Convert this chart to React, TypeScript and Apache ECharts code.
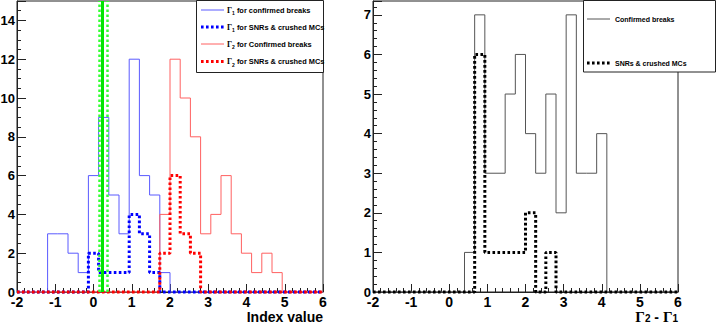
import React, { useEffect, useRef } from "react";
import * as echarts from "echarts";

// Histogram binning: 30 bins from -2 to 6
const X_MIN = -2;
const X_MAX = 6;
const BIN_COUNT = 30;

// Left panel: index values (counts per bin)
const gamma1Confirmed = [0, 0, 0, 3, 3, 2, 1, 6, 9, 5, 3, 12, 6, 5, 1, 0, 0, 0, 0, 0, 0, 0, 0, 0, 0, 0, 0, 0, 0, 0];
const gamma1SNR = [0, 0, 0, 0, 0, 0, 0, 2, 1, 1, 1, 4, 3, 1, 0, 0, 0, 0, 0, 0, 0, 0, 0, 0, 0, 0, 0, 0, 0, 0];
const gamma2Confirmed = [0, 0, 0, 0, 0, 0, 0, 0, 0, 0, 0, 0, 0, 0, 4, 12, 10, 8, 3, 4, 6, 3, 2, 1, 2, 1, 0, 0, 0, 0];
const gamma2SNR = [0, 0, 0, 0, 0, 0, 0, 0, 0, 0, 0, 0, 0, 0, 2, 6, 3, 2, 0, 0, 0, 0, 0, 0, 0, 0, 0, 0, 0, 0];

// Right panel: Γ2 - Γ1
const diffConfirmed = [0, 0, 0, 0, 0, 0, 0, 0, 0, 1, 7, 3, 3, 5, 6, 4, 3, 5, 2, 7, 3, 3, 4, 0, 0, 0, 0, 0, 0, 0];
const diffSNR = [0, 0, 0, 0, 0, 0, 0, 0, 0, 0, 6, 1, 1, 1, 1, 2, 0, 1, 0, 0, 0, 0, 0, 0, 0, 0, 0, 0, 0, 0];

// Green reference lines (mean and band)
const gammaMean = 0.24;
const gammaLow = 0.15;
const gammaHigh = 0.35;

// Axis ranges
const leftYMax = 15;
const rightYMax = 7.35;

const leftLegend = [
  { sub: "1", text: " for confirmed breaks" },
  { sub: "1", text: " for SNRs & crushed MCs" },
  { sub: "2", text: " for Confirmed breaks" },
  { sub: "2", text: " for SNRs & crushed MCs" },
];
const rightLegend = ["Confirmed breaks", "SNRs & crushed MCs"];

function steps(values: number[]) {
  const w = (X_MAX - X_MIN) / BIN_COUNT;
  const pts: number[][] = [];
  values.forEach((v, k) => {
    pts.push([X_MIN + k * w, v]);
    pts.push([X_MIN + (k + 1) * w, v]);
  });
  return pts;
}

const SANS = "'Liberation Sans', Arial, Helvetica, sans-serif";
const SERIF = "'Liberation Serif', 'DejaVu Serif', serif";
const AX = "#222";

const BLUE_L = "#5a5aff";
const BLUE_D = "#0000ff";
const RED_L = "#ff6060";
const RED_D = "#ff0000";
const DOT = [2.6, 2.4];

function xAxis(gridIndex: number, name: string, rich?: any) {
  return {
    type: "value",
    gridIndex,
    min: X_MIN,
    max: X_MAX,
    interval: 1,
    name,
    nameLocation: "end",
    nameGap: 0,
    nameMoveOverlap: false,
    nameTextStyle: {
      align: "right",
      verticalAlign: "top",
      padding: [18, 0, 0, 0],
      lineHeight: 13,
      fontFamily: SANS,
      fontWeight: "bold",
      fontSize: 14,
      color: "#000",
      rich,
    },
    axisLine: { show: true, onZero: false, lineStyle: { color: AX, width: 1 } },
    axisTick: { show: true, inside: true, length: 8, lineStyle: { color: AX } },
    minorTick: { show: true, splitNumber: 5, length: 4, lineStyle: { color: AX } },
    splitLine: { show: false },
    axisLabel: {
      margin: 5,
      lineHeight: 10,
      fontFamily: SANS,
      fontWeight: "bold",
      fontSize: 14,
      color: "#000",
    },
  };
}

function yAxis(gridIndex: number, max: number, interval: number, minorSplit: number) {
  return {
    type: "value",
    gridIndex,
    min: 0,
    max,
    interval,
    axisLine: { show: true, onZero: false, lineStyle: { color: AX, width: 1 } },
    axisTick: { show: true, inside: true, length: 9, lineStyle: { color: AX } },
    minorTick: { show: true, splitNumber: minorSplit, length: 4, lineStyle: { color: AX } },
    splitLine: { show: false },
    axisLabel: {
      margin: 2,
      lineHeight: 8,
      showMaxLabel: false,
      fontFamily: SANS,
      fontWeight: "bold",
      fontSize: 13,
      color: "#000",
    },
  };
}

function hist(name: string, values: number[], axis: number, color: string, width: number, type: any, extra: any = {}) {
  return {
    name,
    type: "line",
    xAxisIndex: axis,
    yAxisIndex: axis,
    data: steps(values),
    symbol: "none",
    showSymbol: false,
    clip: false,
    silent: true,
    lineStyle: { color, width, type, cap: "butt" },
    ...extra,
  };
}

export default function App() {
  const ref = useRef<HTMLDivElement>(null);

  useEffect(() => {
    if (!ref.current) return;
    const chart = echarts.init(ref.current, null, { renderer: "svg" });

    const legendRich = {
      g: { fontFamily: SERIF, fontSize: 8, fontWeight: "bold", color: "#000", lineHeight: 11 },
      s: { fontFamily: SANS, fontSize: 5, fontWeight: "bold", color: "#000", verticalAlign: "bottom" },
      t: { fontFamily: SANS, fontSize: 7.4, fontWeight: "bold", color: "#000", lineHeight: 11 },
    };

    const leftRows = [
      { y: 10, color: BLUE_L, width: 1, dash: "solid" as any },
      { y: 27, color: BLUE_D, width: 3, dash: DOT },
      { y: 44, color: RED_L, width: 1, dash: "solid" as any },
      { y: 61.5, color: RED_D, width: 3, dash: DOT },
    ];

    const graphics: any[] = [
      {
        type: "rect",
        z: 100,
        shape: { x: 196.5, y: 0.5, width: 127, height: 72 },
        style: { fill: "#fff", stroke: AX, lineWidth: 1 },
      },
      {
        type: "rect",
        z: 100,
        shape: { x: 583.5, y: 0.5, width: 132, height: 71.5 },
        style: { fill: "#fff", stroke: AX, lineWidth: 1 },
      },
    ];
    leftRows.forEach((r, i) => {
      graphics.push({
        type: "line",
        z: 101,
        shape: { x1: 201, y1: r.y, x2: 224, y2: r.y },
        style: { stroke: r.color, lineWidth: r.width, lineDash: r.dash === "solid" ? null : r.dash },
      });
      graphics.push({
        type: "text",
        z: 101,
        x: 227,
        y: r.y,
        style: {
          text: `{g|Γ}{s|${leftLegend[i].sub}}{t|${leftLegend[i].text}}`,
          rich: legendRich,
          verticalAlign: "middle",
          align: "left",
        },
      });
    });
    const rightRows = [
      { y: 19, color: "#555", width: 1, dash: null as any },
      { y: 63, color: "#000", width: 3, dash: DOT },
    ];
    rightRows.forEach((r, i) => {
      graphics.push({
        type: "line",
        z: 101,
        shape: { x1: 587, y1: r.y, x2: 610, y2: r.y },
        style: { stroke: r.color, lineWidth: r.width, lineDash: r.dash },
      });
      graphics.push({
        type: "text",
        z: 101,
        x: 615,
        y: r.y,
        style: {
          text: rightLegend[i],
          fontFamily: SANS,
          fontWeight: "bold",
          fontSize: 7,
          fill: "#000",
          verticalAlign: "middle",
          align: "left",
        },
      });
    });

    const titleRich = {
      g: { fontFamily: SERIF, fontSize: 15, fontWeight: "bold", color: "#000", lineHeight: 13 },
      s: { fontFamily: SANS, fontSize: 10, fontWeight: "bold", color: "#000", verticalAlign: "bottom", lineHeight: 8 },
      m: { fontFamily: SANS, fontSize: 14, fontWeight: "bold", color: "#000", lineHeight: 13 },
    };

    const gridBase = {
      top: 1,
      height: 291,
      show: true,
      borderColor: AX,
      borderWidth: 1,
      backgroundColor: "transparent",
      containLabel: false,
      outerBoundsMode: "none",
    };

    chart.setOption({
      animation: false,
      backgroundColor: "#fff",
      grid: [
        { ...gridBase, left: 17, width: 306 },
        { ...gridBase, left: 373, width: 305 },
      ],
      xAxis: [
        xAxis(0, "Index value"),
        xAxis(1, "{g|Γ}{s|2}{m| - }{g|Γ}{s|1}", titleRich),
      ],
      yAxis: [yAxis(0, leftYMax, 2, 4), yAxis(1, rightYMax, 1, 5)],
      graphic: graphics,
      series: [
        hist("Γ1 for confirmed breaks", gamma1Confirmed, 0, BLUE_L, 1, "solid"),
        hist("Γ2 for Confirmed breaks", gamma2Confirmed, 0, RED_L, 1, "solid"),
        hist("Γ1 for SNRs & crushed MCs", gamma1SNR, 0, BLUE_D, 3, DOT),
        hist("Γ2 for SNRs & crushed MCs", gamma2SNR, 0, RED_D, 3, DOT, {
          markLine: {
            silent: true,
            symbol: "none",
            label: { show: false },
            data: [
              { xAxis: gammaLow, lineStyle: { color: "#33ff33", width: 2.5, type: DOT } },
              { xAxis: gammaHigh, lineStyle: { color: "#33ff33", width: 2.5, type: DOT } },
              { xAxis: gammaMean, lineStyle: { color: "#00e600", width: 3, type: "solid" } },
            ],
          },
        }),
        hist("Confirmed breaks", diffConfirmed, 1, "#555", 1, "solid"),
        hist("SNRs & crushed MCs", diffSNR, 1, "#000", 3, DOT),
      ],
    });

    return () => chart.dispose();
  }, []);

  return (
    <div
      ref={ref}
      style={{ position: "fixed", left: 0, top: 0, width: 718, height: 325, background: "#fff" }}
    />
  );
}
